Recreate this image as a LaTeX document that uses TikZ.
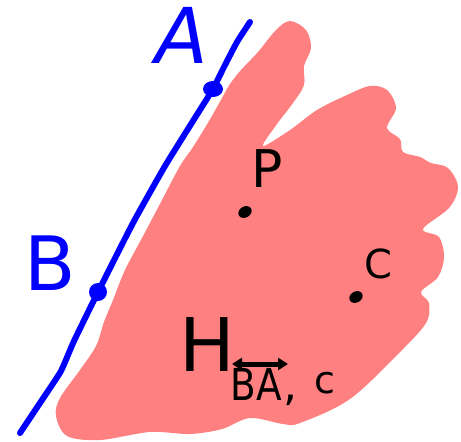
\documentclass[tikz,border=0pt]{standalone}
\usepackage{fontspec}
\setmainfont{DejaVu Sans}
\usetikzlibrary{arrows.meta}
\definecolor{blobred}{HTML}{FF8080}
\definecolor{penblue}{HTML}{0000FF}
\begin{document}
\begin{tikzpicture}[x=1pt,y=-1pt,
  hand/.style={inner sep=0pt, anchor=center},
  handarrow/.style={line width=5pt, {Triangle[length=10pt,width=12pt]}-{Triangle[length=10pt,width=12pt]}}]
\useasboundingbox (0,0) rectangle (461,442);
% red region
\fill[blobred] plot[smooth cycle, tension=0.55] coordinates {
 (290,21) (306,30) (311,48) (304,66) (304,85) (293,103) (277,124) (263,146)
 (290,130) (317,110) (347,95) (370,86) (387,90) (396,108) (387,128)
 (400,139) (403,152) (420,157) (431,163) (448,168) (458,187) (449,208) (423,229)
 (439,237) (444,257) (438,277) (421,292) (429,303) (426,323) (400,352) (350,399)
 (300,423) (283,424) (250,418) (222,429) (190,434) (150,432) (100,440) (67,436)
 (56,416) (60,398) (80,370) (96,346) (104,322) (113,300) (125,270) (142,238)
 (162,200) (180,166) (193,147) (209,121) (222,98) (230,84) (241,70) (258,52) (276,30)};
% blue line
\coordinate (lineBot) at (20,433);
\coordinate (lineTop) at (250,22);
\node[hand] (dotB) at (98,292) {};
\node[hand] (dotA) at (213,89) {};
\draw[penblue, line width=6pt, line cap=round, line join=round]
  plot[smooth, tension=0.3] coordinates {(lineBot) (44,397) (61,371) (74,341) (dotB) (133,223) (165,166) (198,113) (dotA) (224,67) (237,42) (lineTop)};
\fill[penblue] (dotA) ellipse (10pt and 8pt);
\fill[penblue] (dotB) circle (9pt);
% labels
\node[hand, text=penblue, font=\fontsize{77}{77}\selectfont\itshape] (labA) at (182,35) {A};
\node[hand, text=penblue, font=\fontsize{75}{75}\selectfont] (labB) at (50,263) {B};
\node[hand, font=\fontsize{52}{52}\selectfont] (labP) at (267,169) {P};
\node[hand] (dotP) at (245,212) {};
\fill[black, rotate around={30:(dotP)}] (dotP) ellipse (7pt and 5.5pt);
\node[hand, font=\fontsize{40}{40}\selectfont] (labC) at (378,264) {C};
\node[hand] (dotC) at (356,297) {};
\fill[black, rotate around={30:(dotC)}] (dotC) ellipse (7pt and 5.5pt);
\node[hand, font=\fontsize{74}{74}\selectfont] (labH) at (207,345) {H};
\node[hand, font=\fontsize{44}{44}\selectfont] (labBA) at (256,384) {\scalebox{0.85}[1]{BA}};
\node[hand, font=\fontsize{44}{44}\selectfont, anchor=base] (comma) at (290,400) {,};
\node[hand, font=\fontsize{38}{38}\selectfont] (labc) at (325,383) {c};
\coordinate (arL) at (232,364);
\coordinate (arR) at (288,364);
\draw[handarrow] (arL) -- (arR);
\end{tikzpicture}
\end{document}
